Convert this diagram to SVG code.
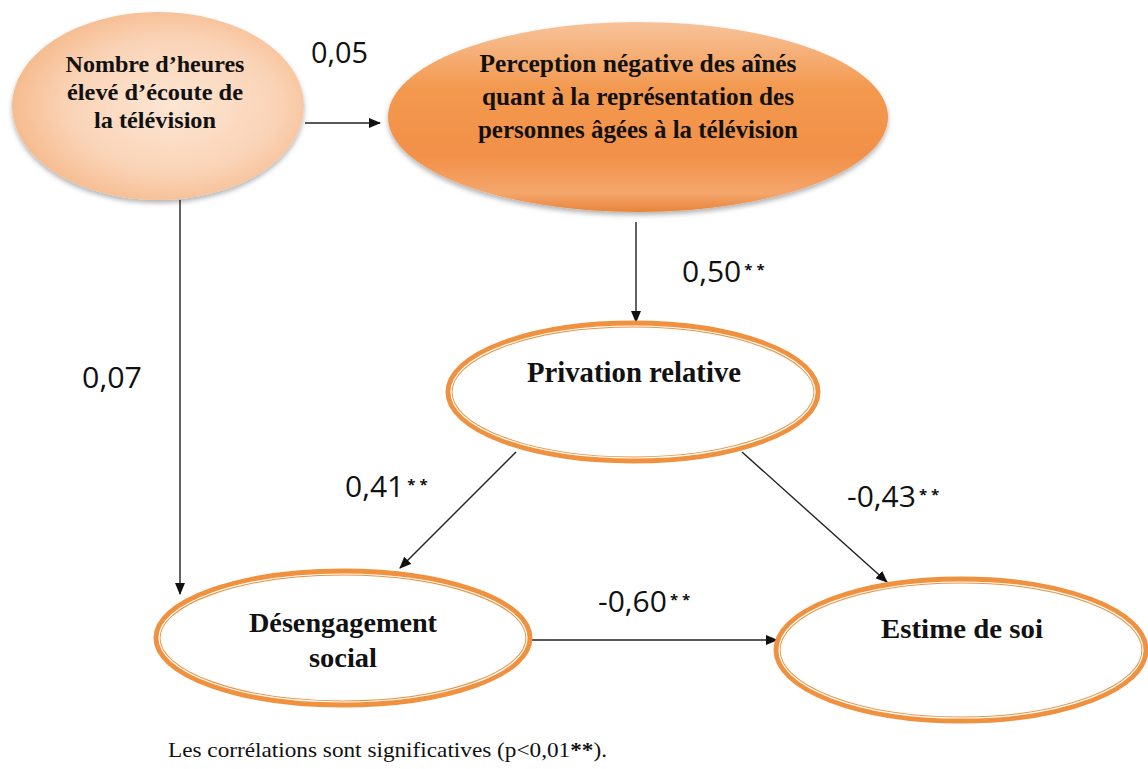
<svg xmlns="http://www.w3.org/2000/svg" width="1148" height="769" viewBox="0 0 1148 769">
<defs>
<radialGradient id="g1" cx="0.55" cy="0.5" r="0.6">
<stop offset="0" stop-color="#fde6d4"/>
<stop offset="0.6" stop-color="#fad3b6"/>
<stop offset="1" stop-color="#f5b584"/>
</radialGradient>
<linearGradient id="g2" x1="0" y1="0" x2="0" y2="1">
<stop offset="0" stop-color="#f7c39a"/>
<stop offset="0.35" stop-color="#f3994f"/>
<stop offset="0.7" stop-color="#f29048"/>
<stop offset="0.9" stop-color="#f4a66c"/>
<stop offset="1" stop-color="#e8843a"/>
</linearGradient>
<filter id="sh" x="-10%" y="-10%" width="120%" height="130%">
<feDropShadow dx="0" dy="3" stdDeviation="2.5" flood-color="#000" flood-opacity="0.3"/>
</filter>
<marker id="arr" markerWidth="12" markerHeight="10" refX="11" refY="5" orient="auto" markerUnits="userSpaceOnUse">
<path d="M0,0 L12,5 L0,10 Z" fill="#111"/>
</marker>
<style>
.nt{font-family:"Liberation Serif","Times New Roman",serif;font-weight:bold;fill:#111;text-anchor:middle}
.lb{font-family:"Open Sans","Liberation Sans",sans-serif;fill:#111}
.st{font-size:15px;font-weight:bold}
.con{stroke:#222;stroke-width:1.4;fill:none;marker-end:url(#arr)}
.dbl{fill:#fff;stroke:#f0913f;stroke-width:7}
.dbl2{fill:none;stroke:#fff;stroke-width:1.2}
</style>
</defs>
<rect width="1148" height="769" fill="#fff"/>

<g id="connectors">
<line class="con" x1="305" y1="123" x2="380" y2="123"/>
<line class="con" x1="636" y1="222" x2="636" y2="322"/>
<line class="con" x1="180" y1="200" x2="180" y2="594"/>
<line class="con" x1="516" y1="452" x2="400" y2="568"/>
<line class="con" x1="742" y1="452" x2="887" y2="582"/>
<line class="con" x1="532" y1="640" x2="777" y2="640"/>
</g>

<g id="n1">
<ellipse cx="158" cy="106" rx="146" ry="94" fill="url(#g1)" filter="url(#sh)"/>
<text class="nt" font-size="24"><tspan x="155" y="72" textLength="179" lengthAdjust="spacingAndGlyphs">Nombre d’heures</tspan><tspan x="155" y="100" textLength="176" lengthAdjust="spacingAndGlyphs">élevé d’écoute de</tspan><tspan x="155" y="128" textLength="122" lengthAdjust="spacingAndGlyphs">la télévision</tspan></text>
</g>

<g id="n2">
<ellipse cx="638" cy="117" rx="250" ry="95" fill="url(#g2)" filter="url(#sh)"/>
<text class="nt" font-size="26"><tspan x="638" y="72" textLength="317" lengthAdjust="spacingAndGlyphs">Perception négative des aînés</tspan><tspan x="638" y="105" textLength="312" lengthAdjust="spacingAndGlyphs">quant à la représentation des</tspan><tspan x="638" y="138" textLength="320" lengthAdjust="spacingAndGlyphs">personnes âgées à la télévision</tspan></text>
</g>

<g id="n3">
<ellipse class="dbl" cx="633" cy="392" rx="184" ry="68"/>
<ellipse class="dbl2" cx="633" cy="392" rx="182" ry="66"/>
<text class="nt" font-size="29" x="634" y="382" textLength="214" lengthAdjust="spacingAndGlyphs">Privation relative</text>
</g>

<g id="n4">
<ellipse class="dbl" cx="343" cy="638" rx="186" ry="66"/>
<ellipse class="dbl2" cx="343" cy="638" rx="184" ry="64"/>
<text class="nt" font-size="28"><tspan x="343" y="632" textLength="188" lengthAdjust="spacingAndGlyphs">Désengagement</tspan><tspan x="343" y="667" textLength="68" lengthAdjust="spacingAndGlyphs">social</tspan></text>
</g>

<g id="n5">
<ellipse class="dbl" cx="961" cy="650" rx="184" ry="70"/>
<ellipse class="dbl2" cx="961" cy="650" rx="182" ry="68"/>
<text class="nt" font-size="28" x="962" y="638" textLength="162" lengthAdjust="spacingAndGlyphs">Estime de soi</text>
</g>

<g id="labels">
<text class="lb" font-size="30" x="311" y="63" textLength="57" lengthAdjust="spacingAndGlyphs">0,05</text>
<text class="lb" font-size="30" x="82" y="388" textLength="60" lengthAdjust="spacingAndGlyphs">0,07</text>
<text class="lb" font-size="30" x="682" y="282">0,50<tspan class="st" dx="3" dy="-7" letter-spacing="4">**</tspan></text>
<text class="lb" font-size="30" x="345" y="497">0,41<tspan class="st" dx="3" dy="-7" letter-spacing="4">**</tspan></text>
<text class="lb" font-size="30" x="847" y="507">-0,43<tspan class="st" dx="3" dy="-7" letter-spacing="4">**</tspan></text>
<text class="lb" font-size="30" x="598" y="612">-0,60<tspan class="st" dx="3" dy="-7" letter-spacing="4">**</tspan></text>
<text font-family="'Liberation Serif','Times New Roman',serif" font-size="21" fill="#111" x="168" y="757" textLength="439" lengthAdjust="spacingAndGlyphs">Les corrélations sont significatives (p&lt;0,01<tspan font-weight="bold">**</tspan>).</text>
</g>
</svg>
